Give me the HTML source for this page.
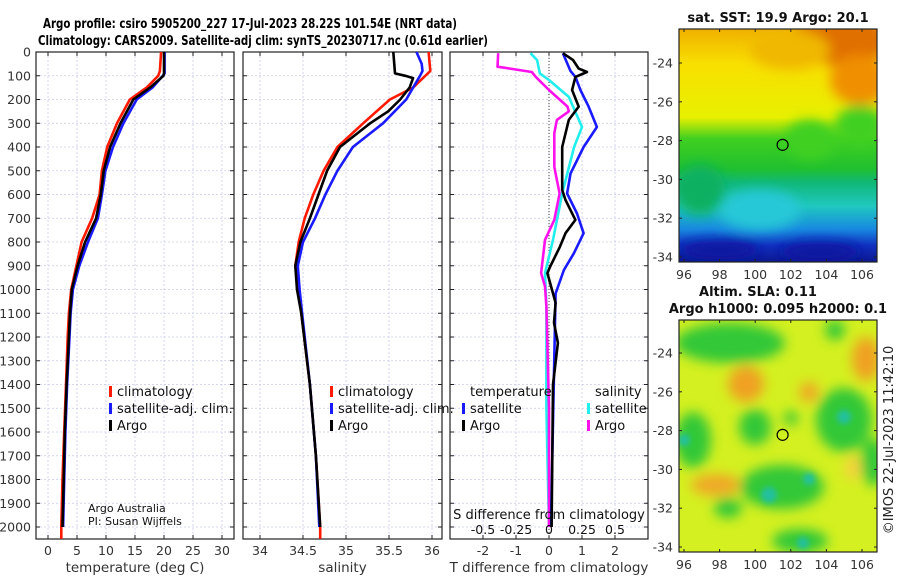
<!DOCTYPE html>
<html><head><meta charset="utf-8"><style>
html,body{margin:0;padding:0;background:#fff;}
svg{display:block;font-family:"DejaVu Sans","Liberation Sans",sans-serif;}
</style></head><body>
<svg id="fig" width="900" height="580" viewBox="0 0 900 580" xmlns="http://www.w3.org/2000/svg">
<defs>
<filter id="blur6" x="-50%" y="-50%" width="200%" height="200%"><feGaussianBlur stdDeviation="6"/></filter>
<filter id="blur3" x="-50%" y="-50%" width="200%" height="200%"><feGaussianBlur stdDeviation="3"/></filter>
<clipPath id="clipSst"><rect x="679" y="29" width="198" height="233"/></clipPath>
<clipPath id="clipSla"><rect x="679" y="320" width="198" height="232"/></clipPath>
</defs>
<text x="43" y="28" font-size="13" font-weight="bold" textLength="414" lengthAdjust="spacingAndGlyphs">Argo profile: csiro 5905200_227 17-Jul-2023 28.22S 101.54E (NRT data)</text>
<text x="38" y="45" font-size="13" font-weight="bold" textLength="450" lengthAdjust="spacingAndGlyphs">Climatology: CARS2009. Satellite-adj clim: synTS_20230717.nc (0.61d earlier)</text>
<g id="plots"></g>
</svg>
<script>
// ---------- data ----------
const depthTicks = [0,100,200,300,400,500,600,700,800,900,1000,1100,1200,1300,1400,1500,1600,1700,1800,1900,2000];
const tempTicks = [0,5,10,15,20,25,30];
const salTicks = [34,34.5,35,35.5,36];
const tdiffTicks = [-2,-1,0,1,2];
const sdiffTicks = [-0.5,-0.25,0,0.25,0.5];
const sdiffTickLabels = ["-0.5","-0.25","0","0.25","0.5"];

const tClimDepth = [0,80,100,150,200,300,400,500,600,700,800,900,1000,1100,1200,1400,1600,1800,2000,2050];
const tClimVal   = [19.5,19.3,19.0,17.0,14.1,11.9,10.2,9.3,8.9,7.6,5.8,4.9,4.0,3.6,3.4,3.1,2.8,2.5,2.3,2.3];
const tSatDepth  = [0,90,100,150,200,300,400,500,600,700,800,900,1000,1100,1200,1400,1600,1800,2000];
const tSatVal    = [20.1,20.1,19.8,18.0,15.3,13.0,11.2,9.9,9.3,8.6,6.9,5.4,4.3,3.9,3.7,3.3,3.0,2.8,2.6];
const tArgoDepth = [0,90,100,150,200,300,400,500,600,700,800,900,1000,1100,1200,1400,1600,1800,2000];
const tArgoVal   = [20.0,20.0,19.9,17.6,14.7,12.5,10.7,9.6,9.1,8.3,6.4,5.1,4.1,3.8,3.6,3.2,2.9,2.7,2.5];

const sClimDepth = [0,80,150,200,300,400,500,600,700,800,900,1000,1100,1400,1700,2000,2050];
const sClimVal   = [35.96,35.98,35.78,35.51,35.20,34.90,34.74,34.62,34.52,34.45,34.41,34.45,34.48,34.58,34.65,34.70,34.70];
const sSatDepth  = [0,50,80,100,150,200,300,400,500,600,700,800,900,1000,1100,1400,1700,2000];
const sSatVal    = [35.82,35.88,35.89,35.86,35.78,35.70,35.43,35.08,34.90,34.76,34.64,34.50,34.44,34.46,34.49,34.58,34.65,34.69];
const sArgoDepth = [0,90,100,110,150,200,250,300,400,500,600,700,800,900,1000,1100,1400,1700,2000];
const sArgoVal   = [35.55,35.57,35.69,35.78,35.74,35.63,35.49,35.28,34.93,34.78,34.68,34.58,34.47,34.41,34.43,34.48,34.58,34.65,34.70];

const dTSatDepth = [5,80,105,160,230,316,400,512,596,680,763,848,918,1017,1350,1910,2000];
const dTSatVal   = [0.42,0.65,0.8,0.95,1.2,1.45,1.05,0.65,0.55,0.85,1.05,0.75,0.45,0.2,0.15,0.07,0.07];
const dTArgoDepth= [5,34,70,84,105,160,230,286,400,581,623,707,763,820,905,931,1056,1140,1225,1400,2000];
const dTArgoVal  = [0.42,0.73,0.9,1.15,0.8,0.7,0.9,0.6,0.4,0.4,0.5,0.8,0.5,0.33,0.03,-0.05,0.2,0.15,0.27,0.12,0.08];
const dSSatDepth = [5,34,90,118,189,316,400,596,791,931,1071,1500,2000];
const dSSatVal   = [-0.14,-0.09,-0.07,0.0,0.15,0.25,0.19,0.10,0.03,-0.03,-0.02,-0.02,0.0];
const dSArgoDepth= [5,62,84,105,160,230,250,286,342,484,596,707,791,931,987,1071,1500,2000];
const dSArgoVal  = [-0.385,-0.39,-0.13,-0.1,0.0,0.14,0.15,0.06,0.04,0.04,0.08,0.04,-0.03,-0.06,-0.03,-0.02,0.0,0.0];

const mapLonTicks = [96,98,100,102,104,106];
const mapLatTicks = [-24,-26,-28,-30,-32,-34];
const argoLon = 101.54, argoLat = -28.22;

// ---------- helpers ----------
const NS = "http://www.w3.org/2000/svg";
const root = document.getElementById('plots');
function el(tag, attrs, parent, text){
  const e = document.createElementNS(NS, tag);
  for (const k in attrs) e.setAttribute(k, attrs[k]);
  if (text !== undefined) e.textContent = text;
  (parent||root).appendChild(e);
  return e;
}
const Y0 = 52, YB = 539;
const yD = d => Y0 + d * 0.2375;

function panel(name, x0, x1, xf, xticks, xlabels, xtitle, showY){
  const g = el('g', {});
  
  
  depthTicks.forEach(d => {
    el('line',{x1:x0,x2:x1,y1:yD(d),y2:yD(d),stroke:'#c8cce8','stroke-width':0.8,'stroke-dasharray':'2,2'},g);
  });
  xticks.forEach(v => {
    el('line',{x1:xf(v),x2:xf(v),y1:Y0,y2:YB,stroke:'#c8cce8','stroke-width':0.8,'stroke-dasharray':'2,2'},g);
  });
  depthTicks.forEach(d => {
    el('line',{x1:x0,x2:x0+4,y1:yD(d),y2:yD(d),stroke:'#222'},g);
    el('line',{x1:x1-4,x2:x1,y1:yD(d),y2:yD(d),stroke:'#222'},g);
    if (showY){
      const t = el('text',{x:x0-5,y:yD(d)+4.5,'font-size':12.5,'text-anchor':'end',fill:'#333'},g,String(d));
      
      
    }
  });
  xticks.forEach((v,i) => {
    el('line',{x1:xf(v),x2:xf(v),y1:YB,y2:YB-4,stroke:'#222'},g);
    el('line',{x1:xf(v),x2:xf(v),y1:Y0,y2:Y0+4,stroke:'#222'},g);
    if (xlabels){
      const t = el('text',{x:xf(v),y:YB+16,'font-size':12.5,'text-anchor':'middle',fill:'#333'},g,xlabels[i]);
      
      
    }
  });
  el('rect',{x:x0,y:Y0,width:x1-x0,height:YB-Y0,fill:'none',stroke:'#222','stroke-width':1.2},g);
  if (xtitle){
    const t = el('text',{x:(x0+x1)/2,y:572,'font-size':13.5,'text-anchor':'middle',fill:'#333'},g,xtitle);
    
    
  }
  return g;
}
function series(g, name, depths, vals, xf, color, w){
  const pts = depths.map((d,i)=> xf(vals[i]).toFixed(1)+','+yD(d).toFixed(1)).join(' ');
  const p = el('polyline',{points:pts,fill:'none',stroke:color,'stroke-width':w||2.6,'stroke-linejoin':'round'},g);
  
  
}
function legendItem(g, name, x, y, color, label){
  const gg = el('g',{},g);
  
  
  el('rect',{x:x,y:y-10,width:3,height:11,fill:color},gg);
  el('text',{x:x+8,y:y,'font-size':13,fill:'#111'},gg,label);
}

// ---------- panel 1: temperature ----------
const xT = v => 48 + v*5.8;
const g1 = panel('temperature-panel', 36, 234, xT, tempTicks, tempTicks.map(String), 'temperature (deg C)', true);
series(g1,'temp-climatology-line',tClimDepth,tClimVal,xT,'#ff1a00');
series(g1,'temp-satellite-line',tSatDepth,tSatVal,xT,'#1a1aff');
series(g1,'temp-argo-line',tArgoDepth,tArgoVal,xT,'#000');
legendItem(g1,'legend-climatology',109,396,'#ff1a00','climatology');
legendItem(g1,'legend-satellite-adj',109,413,'#1a1aff','satellite-adj. clim.');
legendItem(g1,'legend-argo',109,430,'#000','Argo');
{
  const t1 = el('text',{x:88,y:512,'font-size':11,fill:'#111'},g1,'Argo Australia');
  
  
  const t2 = el('text',{x:88,y:525,'font-size':11,fill:'#111'},g1,'PI: Susan Wijffels');
  
  
}

// ---------- panel 2: salinity ----------
const xS = v => 260 + (v-34)*86;
const g2 = panel('salinity-panel', 243, 442, xS, salTicks, salTicks.map(String), 'salinity', false);
series(g2,'sal-climatology-line',sClimDepth,sClimVal,xS,'#ff1a00');
series(g2,'sal-satellite-line',sSatDepth,sSatVal,xS,'#1a1aff');
series(g2,'sal-argo-line',sArgoDepth,sArgoVal,xS,'#000');
legendItem(g2,'legend-climatology',330,396,'#ff1a00','climatology');
legendItem(g2,'legend-satellite-adj',330,413,'#1a1aff','satellite-adj. clim.');
legendItem(g2,'legend-argo',330,430,'#000','Argo');

// ---------- panel 3: differences ----------
const xDT = v => 549 + v*33;
const xDS = v => 549 + v*132;
const g3 = panel('difference-panel', 450, 648, xDT, tdiffTicks, tdiffTicks.map(String), 'T difference from climatology', false);
el('line',{x1:xDT(0),x2:xDT(0),y1:Y0,y2:YB,stroke:'#444','stroke-width':1,'stroke-dasharray':'1,2'},g3);
series(g3,'sdiff-satellite-line',dSSatDepth,dSSatVal,xDS,'#22eeee');
series(g3,'sdiff-argo-line',dSArgoDepth,dSArgoVal,xDS,'#ff11ee');
series(g3,'tdiff-satellite-line',dTSatDepth,dTSatVal,xDT,'#1a1aff');
series(g3,'tdiff-argo-line',dTArgoDepth,dTArgoVal,xDT,'#000');
{
  const t = el('text',{x:470,y:396,'font-size':13,fill:'#111'},g3,'temperature');
  
  
  const s = el('text',{x:595,y:396,'font-size':13,fill:'#111'},g3,'salinity');
  
  
}
legendItem(g3,'legend-t-satellite',462,413,'#1a1aff','satellite');
legendItem(g3,'legend-t-argo',462,430,'#000','Argo');
legendItem(g3,'legend-s-satellite',587,413,'#22eeee','satellite');
legendItem(g3,'legend-s-argo',587,430,'#ff11ee','Argo');
{
  const t = el('text',{x:549,y:519,'font-size':13,'text-anchor':'middle',fill:'#111'},g3,'S difference from climatology');
  
  
  sdiffTicks.forEach((v,i)=>{
    const l = el('text',{x:xDS(v),y:534,'font-size':12.5,'text-anchor':'middle',fill:'#111'},g3,sdiffTickLabels[i]);
    
    
  });
}

// ---------- maps ----------
function mapAxes(g, x0, x1, y0, y1, latY){
  const lonX = lon => 684 + (lon-96)*17.8;
  mapLatTicks.forEach(lat=>{
    const y = latY(lat);
    el('line',{x1:x0,x2:x0+3,y1:y,y2:y,stroke:'#222'},g);
    el('line',{x1:x1-3,x2:x1,y1:y,y2:y,stroke:'#222'},g);
    const t = el('text',{x:x0-6,y:y+4.5,'font-size':12.5,'text-anchor':'end',fill:'#333'},g,String(lat));
    
    
  });
  mapLonTicks.forEach(lon=>{
    const x = lonX(lon);
    el('line',{x1:x,x2:x,y1:y1,y2:y1-3,stroke:'#222'},g);
    el('line',{x1:x,x2:x,y1:y0,y2:y0+3,stroke:'#222'},g);
    const t = el('text',{x:x,y:y1+17,'font-size':12.5,'text-anchor':'middle',fill:'#333'},g,String(lon));
    
    
  });
  el('rect',{x:x0,y:y0,width:x1-x0,height:y1-y0,fill:'none',stroke:'#222','stroke-width':1.2},g);
  el('circle',{cx:lonX(argoLon),cy:latY(argoLat),r:5.5,fill:'none',stroke:'#000','stroke-width':1.2},g);
}

// SST map
const gm1 = el('g',{});


{
  const c = el('g',{'clip-path':'url(#clipSst)'},gm1);
  const lg = el('linearGradient',{id:'sstGrad',x1:0,y1:0,x2:0,y2:1},c);
  [['0','#f0b000'],['0.15','#f8e000'],['0.38','#e8f000'],['0.47','#40d020'],['0.6','#20c030'],['0.66','#10b878'],['0.76','#20c8c0'],['0.86','#1888e0'],['0.93','#1030c0'],['1','#0c1890']].forEach(s=>el('stop',{offset:s[0],'stop-color':s[1]},lg));
  el('rect',{x:679,y:29,width:198,height:233,fill:'url(#sstGrad)'},c);
  const b = el('g',{filter:'url(#blur6)'},c);
  el('ellipse',{cx:840,cy:40,rx:50,ry:25,fill:'#e07000'},b);
  el('ellipse',{cx:860,cy:80,rx:30,ry:25,fill:'#f09000'},b);
  el('ellipse',{cx:790,cy:50,rx:40,ry:20,fill:'#f0b800'},b);
  el('ellipse',{cx:810,cy:140,rx:25,ry:20,fill:'#40d020'},b);
  el('ellipse',{cx:860,cy:125,rx:25,ry:20,fill:'#40d020'},b);
  el('ellipse',{cx:760,cy:210,rx:40,ry:20,fill:'#28c8d8'},b);
  el('ellipse',{cx:700,cy:190,rx:25,ry:25,fill:'#10b060'},b);
  el('ellipse',{cx:720,cy:250,rx:40,ry:10,fill:'#0818a0'},b);
  el('ellipse',{cx:820,cy:252,rx:40,ry:10,fill:'#0818a0'},b);
}
mapAxes(gm1, 679, 877, 29, 262, lat => 63 + (-24-lat)*19.4);
{
  const t = el('text',{x:778,y:22,'font-size':13,'font-weight':'bold','text-anchor':'middle',fill:'#111'},gm1,'sat. SST: 19.9 Argo: 20.1');
  
  
}

// SLA map
const gm2 = el('g',{});


{
  const c = el('g',{'clip-path':'url(#clipSla)'},gm2);
  el('rect',{x:679,y:320,width:198,height:232,fill:'#d4f020'},c);
  const b = el('g',{filter:'url(#blur6)'},c);
  [[730,343,55,20],[835,330,10,10],[693,440,18,28],[755,427,16,18],[844,420,28,32],[782,487,42,22],[728,508,14,10],[800,541,28,12],[873,462,12,24],[791,418,7,7]].forEach(e=>el('ellipse',{cx:e[0],cy:e[1],rx:e[2],ry:e[3],fill:'#30c838'},b));
  [[746,384,18,18,'#f0a020'],[809,392,10,10,'#f0a828'],[866,359,14,22,'#f0a020'],[716,485,25,11,'#f0a828'],[853,468,8,12,'#f8d040']].forEach(e=>el('ellipse',{cx:e[0],cy:e[1],rx:e[2],ry:e[3],fill:e[4]},b));
  const b2 = el('g',{filter:'url(#blur3)'},c);
  [[844,417,7],[809,479,6],[769,495,8],[803,543,6],[684,440,6]].forEach(e=>el('circle',{cx:e[0],cy:e[1],r:e[2],fill:'#20c0a0'},b2));
}
mapAxes(gm2, 679, 877, 320, 552, lat => 353 + (-24-lat)*19.4);
{
  const t = el('text',{x:758,y:296,'font-size':13,'font-weight':'bold','text-anchor':'middle',fill:'#111'},gm2,'Altim. SLA: 0.11');
  
  
  const t2 = el('text',{x:778,y:313,'font-size':13,'font-weight':'bold','text-anchor':'middle',fill:'#111'},gm2,'Argo h1000: 0.095 h2000: 0.1');
  
  
  const t3 = el('text',{x:0,y:0,'font-size':13,'text-anchor':'middle',fill:'#222',transform:'translate(893,440) rotate(-90)'},gm2,'©IMOS 22-Jul-2023 11:42:10');
  
  
}
</script>
</body></html>
